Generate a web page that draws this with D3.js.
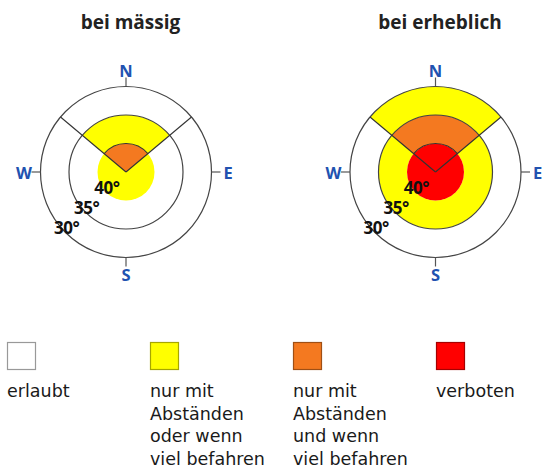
<!DOCTYPE html>
<html>
<head>
<meta charset="utf-8">
<script src="https://cdn.jsdelivr.net/npm/d3@7"></script>
<style>
  body { margin: 0; background: #fff; }
  svg { display: block; font-family: "Open Sans", sans-serif; }
</style>
</head>
<body>
<svg></svg>
<script>
// Titel der beiden Rosen
const titles = ["bei mässig", "bei erheblich"];

// Hangneigungen (Grad) der Ringe
const slopeSteps = [30, 35, 40];
const slopeMax = 45;

// Himmelsrichtungen
const directions = ["N", "E", "S", "W"];

// Nordsektor (Grad von Nord)
const northSector = [-50, 50];

// Stufen: 0 erlaubt, 1 gelb, 2 orange, 3 verboten
const levels = [0, 1, 2, 3];
const levelColors = ["#ffffff", "#ffff00", "#f47920", "#ff0000"];
const levelLabels = [
  ["erlaubt"],
  ["nur mit", "Abständen", "oder wenn", "viel befahren"],
  ["nur mit", "Abständen", "und wenn", "viel befahren"],
  ["verboten"],
];

// Zonen: sector "alle" oder "nord", Neigung von / bis, Stufe
const zonesMaessig = [
  { sector: "alle", from: 40, to: 45, level: 1 },
  { sector: "nord", from: 35, to: 40, level: 1 },
  { sector: "nord", from: 40, to: 45, level: 2 },
];
const zonesErheblich = [
  { sector: "alle", from: 35, to: 40, level: 1 },
  { sector: "alle", from: 40, to: 45, level: 3 },
  { sector: "nord", from: 30, to: 35, level: 1 },
  { sector: "nord", from: 35, to: 40, level: 2 },
];
const zonesPerChart = [zonesMaessig, zonesErheblich];

const svgWidth = 543;
const svgHeight = 473;
const centersX = [126, 435.5];
const centerY = 172;

const svg = d3.select("svg").attr("width", svgWidth).attr("height", svgHeight);

const scaleR = d3.scaleLinear().domain([slopeMax, 30]).range([0, 85.5]);
const colorLevel = d3.scaleOrdinal().domain(levels).range(levelColors);
const rad = (deg) => (deg * Math.PI) / 180;

const arc = d3
  .arc()
  .innerRadius((d) => scaleR(d.to))
  .outerRadius((d) => scaleR(d.from))
  .startAngle((d) => (d.sector == "alle" ? 0 : rad(northSector[0])))
  .endAngle((d) => (d.sector == "alle" ? 2 * Math.PI : rad(northSector[1])));

titles.forEach((title, i) => {
  const g = svg
    .append("g")
    .attr("transform", "translate(" + centersX[i] + "," + centerY + ")");

  // Titel
  g.append("text")
    .attr("x", 4.5)
    .attr("y", -143)
    .attr("text-anchor", "middle")
    .style("font-size", "19px")
    .style("font-weight", "700")
    .style("fill", "#222")
    .text(title);

  // Flächen
  g.selectAll("path.zone")
    .data(zonesPerChart[i])
    .enter()
    .append("path")
    .attr("class", "zone")
    .attr("d", arc)
    .style("fill", (d) => colorLevel(d.level));

  // Ringe 30° und 35°
  g.selectAll("circle.ring")
    .data(slopeSteps.slice(0, 2))
    .enter()
    .append("circle")
    .attr("class", "ring")
    .attr("r", (d) => scaleR(d))
    .style("fill", "none")
    .style("stroke", "#444")
    .style("stroke-width", 1.2);

  // innerer Bogen 40° nur im Nordsektor
  g.append("path")
    .attr(
      "d",
      d3
        .arc()
        .innerRadius(scaleR(40))
        .outerRadius(scaleR(40))
        .startAngle(rad(northSector[0]))
        .endAngle(rad(northSector[1]))()
    )
    .style("fill", "none")
    .style("stroke", "#333")
    .style("stroke-width", 1.1);

  // Sektorgrenzen
  g.selectAll("line.sector")
    .data(northSector)
    .enter()
    .append("line")
    .attr("class", "sector")
    .attr("x1", 0)
    .attr("y1", 0)
    .attr("x2", (d) => scaleR(30) * Math.sin(rad(d)))
    .attr("y2", (d) => -scaleR(30) * Math.cos(rad(d)))
    .style("stroke", "#333")
    .style("stroke-width", 1.1);

  // Himmelsrichtungen
  directions.forEach((dir, k) => {
    const a = rad(k * 90);
    g.append("line")
      .attr("x1", scaleR(30) * Math.sin(a))
      .attr("y1", -scaleR(30) * Math.cos(a))
      .attr("x2", (scaleR(30) + 9) * Math.sin(a))
      .attr("y2", -(scaleR(30) + 9) * Math.cos(a))
      .style("stroke", "#555")
      .style("stroke-width", 1.2);
    g.append("text")
      .attr("x", 102 * Math.sin(a))
      .attr("y", -102 * Math.cos(a))
      .attr("text-anchor", "middle")
      .attr("dominant-baseline", "central")
      .style("font-size", "16.5px")
      .style("font-weight", "700")
      .style("fill", "#2152b0")
      .text(dir);
  });

  // Neigungsbeschriftung im Südwesten
  g.selectAll("text.slope")
    .data(slopeSteps)
    .enter()
    .append("text")
    .attr("class", "slope")
    .attr("x", (d) => -scaleR(d) * Math.SQRT1_2 + 1)
    .attr("y", (d) => scaleR(d) * Math.SQRT1_2 + 2)
    .attr("text-anchor", "middle")
    .style("font-size", "17px")
    .style("font-weight", "700")
    .style("letter-spacing", "-0.5px")
    .style("fill", "#111")
    .text((d) => d + "°");
});

// Legende
const legend = svg
  .selectAll("g.legend")
  .data(levels)
  .enter()
  .append("g")
  .attr("class", "legend")
  .attr("transform", (d) => "translate(" + (7 + d * 143) + ",342)");

legend
  .append("rect")
  .attr("x", 0.5)
  .attr("y", 0.5)
  .attr("width", 28)
  .attr("height", 27)
  .style("fill", (d) => colorLevel(d))
  .style("stroke", (d) => (d == 0 ? "#999" : d3.color(colorLevel(d)).darker(1.2)))
  .style("stroke-width", 1.2);

// jede Zeile als eigenes Textelement (kompakte Schrift, damit sich die Zeilen nicht überlappen)
legend
  .selectAll("text")
  .data((d) => levelLabels[d])
  .enter()
  .append("text")
  .attr("x", 0)
  .attr("y", (d, j) => 55 + j * 22.5)
  .style("font-family", "'DejaVu Sans', sans-serif")
  .style("font-size", "17.5px")
  .style("fill", "#1a1a1a")
  .text((d) => d);
</script>
</body>
</html>
